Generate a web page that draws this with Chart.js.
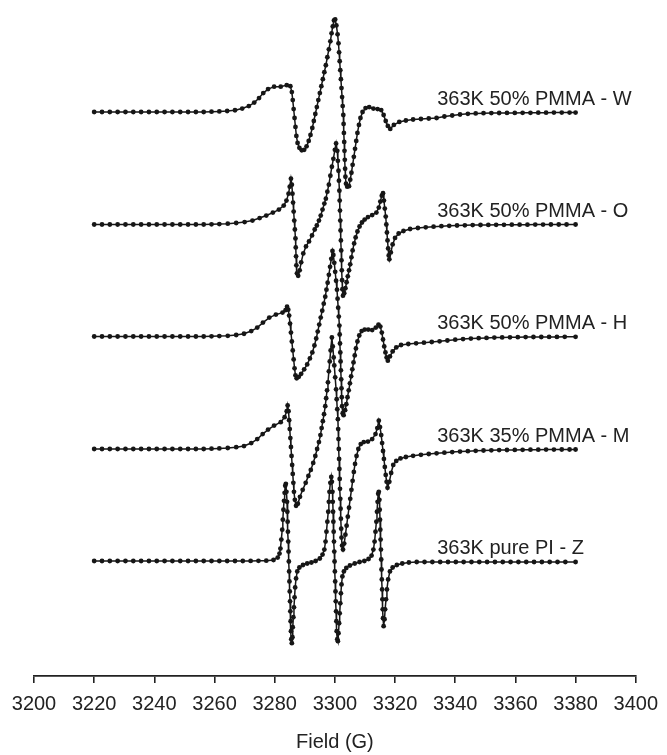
<!DOCTYPE html>
<html>
<head>
<meta charset="utf-8">
<script src="https://cdn.jsdelivr.net/npm/chart.js@4.4.1/dist/chart.umd.min.js"></script>
<style>
  html, body { margin: 0; padding: 0; background: #fff; }
  canvas { display: block; }
</style>
</head>
<body>
<canvas id="grafico" width="667" height="755"></canvas>
<script>
// EPR spectra, field in G, signal in arbitrary units (stacked with offsets)
const traceNames = ['363K 50% PMMA - W', '363K 50% PMMA - O', '363K 50% PMMA - H', '363K 35% PMMA - M', '363K pure PI - Z'];
const traceOffsets = [566.5, 453.5, 341, 228, 115];
const fieldTicks = [3200, 3220, 3240, 3260, 3280, 3300, 3320, 3340, 3360, 3380, 3400];

const leftFlat = [3220, 3222.6, 3225.2, 3227.8, 3230.4, 3233, 3235.6, 3238.2, 3240.8, 3243.4, 3246, 3248.6, 3251.2, 3253.8, 3256.4, 3259, 3261.6];

const fieldW = leftFlat.concat([
  3264.2, 3266.8, 3269.2, 3271.4, 3273.2, 3274.8, 3276.2, 3277.8, 3279.8, 3282, 3284, 3285.2, 3285.7, 3286, 3286.3, 3286.6, 3286.9, 3287.2, 3287.6, 3288.2,
  3289, 3289.8, 3290.6, 3291.3, 3291.9, 3292.5, 3293, 3293.5, 3294, 3294.5, 3295, 3295.5, 3296, 3296.5, 3297, 3297.5, 3298, 3298.5, 3298.9, 3299.3, 3299.7,
  3300.1, 3300.5, 3300.9, 3301.2, 3301.4, 3301.6, 3301.8, 3302, 3302.2, 3302.4, 3302.6, 3302.8, 3302.9, 3303, 3303.1, 3303.2, 3303.3, 3303.4, 3303.5, 3303.7,
  3304.1, 3304.7, 3305.1, 3305.5, 3305.9, 3306.3, 3306.7, 3307.1, 3307.5, 3308, 3308.5, 3309.2, 3310.2, 3311.4, 3312.8, 3314.2, 3315.4, 3316.2, 3316.9, 3317.6, 3318.4, 3319.6, 3321.4, 3323.6, 3326,
  3328.6, 3331.2, 3333.8, 3336.4, 3339, 3341.6, 3344.2, 3346.8, 3349.4, 3352, 3354.6, 3357.2, 3359.8, 3362.4, 3365, 3367.6, 3370.2, 3372.8, 3375.4, 3378, 3380]);
const ampW = [0, 0, 0, 0, 0, 0, 0, 0, 0, 0, 0, 0, 0, 0, 0, 0.3, 0.6,
  1, 1.8, 3.5, 6, 9.5, 14, 19, 23, 25.5, 25.5, 27, 26, 20, 12, 3, -6, -15, -24, -31, -36,
  -38.5, -38, -34.5, -29, -23, -16, -9, -2, 5, 12, 19, 26, 33, 40, 47, 55, 63, 71, 79, 86, 92,
  93, 87, 78, 69, 60, 51, 42, 33, 24, 15, 6, -3, -12, -21, -30, -39, -48, -57, -65, -72,
  -75, -74.5, -68, -61, -53, -45, -37, -29, -21, -13, -6, 0, 4, 5, 3.5, 3, 2, -3, -9, -14, -17, -13, -10, -8.5, -7.5,
  -7, -6.5, -6, -4.5, -3.5, -2.5, -1.8, -1.4, -1.2, -1.1, -1, -0.9, -0.9, -0.8, -0.8, -0.7, -0.7, -0.6, -0.6, -0.6, -0.6];

const fieldO = leftFlat.concat([
  3264.4, 3267.2, 3270, 3272.6, 3275, 3277.2, 3279.4, 3281.4, 3283, 3283.9, 3284.6, 3285, 3285.4, 3285.7, 3285.9, 3286.1, 3286.3, 3286.5, 3286.7, 3286.9,
  3287, 3287.1, 3287.2, 3287.4, 3287.8, 3288.3, 3288.8, 3289.5, 3290.4, 3291.4, 3292.4, 3293.3, 3294, 3294.7, 3295.3, 3295.9, 3296.5, 3297, 3297.5, 3298,
  3298.5, 3299, 3299.5, 3300, 3300.4, 3300.8, 3301, 3301.2, 3301.35, 3301.5, 3301.6, 3301.7, 3301.8, 3301.9, 3302, 3302.1, 3302.2, 3302.3, 3302.4, 3302.5,
  3302.7, 3303.1, 3303.5, 3303.9, 3304.3, 3304.7, 3305.1, 3305.5, 3305.9, 3306.4, 3306.9, 3307.5, 3308.2, 3309, 3309.9, 3311, 3312.4, 3313.8, 3314.6, 3315.1, 3315.6,
  3316, 3316.3, 3316.6, 3316.9, 3317.1, 3317.3, 3317.5, 3317.7, 3317.9, 3318.1, 3318.6, 3319.2, 3320, 3321.2, 3322.8, 3325, 3327.6,
  3330.2, 3332.8, 3335.4, 3338, 3340.6, 3343.2, 3345.8, 3348.4, 3351, 3353.6, 3356.2, 3358.8, 3361.4, 3364, 3366.6, 3369.2, 3371.8, 3374.4, 3377, 3380]);
const ampO = [0, 0, 0, 0, 0, 0, 0, 0, 0, 0, 0, 0, 0, 0, 0, 0.2, 0.4,
  0.8, 1.5, 2.5, 4, 6.5, 9, 12, 15, 19, 24, 31, 38, 46, 40, 31, 22, 13, 4, -5, -14,
  -23, -32, -41, -49, -51.5, -46, -38, -29, -22, -17, -11, -5, -1, 4, 9, 15, 21, 26, 33, 40,
  49, 58, 66, 75, 81.5, 74, 64, 54, 44, 34, 24, 14, 4, -6, -16, -26, -36, -46, -56, -65,
  -71.5, -69, -64, -58, -52, -46, -40, -33, -26, -19, -13, -7, -2, 2, 5, 7.5, 9.5, 12, 17, 23, 29,
  31.5, 24, 16, 8, 0, -8, -16, -24, -31, -35, -28, -20, -13.5, -9, -6.5, -4.5, -3.5,
  -2.8, -2.2, -1.7, -1.3, -1, -0.8, -0.6, -0.5, -0.4, -0.3, -0.3, -0.2, -0.2, -0.2, -0.1, -0.1, 0, 0, 0, 0];

const fieldH = leftFlat.concat([
  3264.4, 3267.2, 3269.8, 3272.2, 3274.2, 3276.1, 3278.2, 3280.4, 3282.6, 3283.6, 3284.1, 3284.5, 3284.8, 3285.1, 3285.4, 3285.7, 3286, 3286.3, 3286.6, 3286.9,
  3287.3, 3288, 3288.8, 3289.8, 3290.8, 3291.7, 3292.5, 3293.2, 3293.8, 3294.3, 3294.8, 3295.3, 3295.8, 3296.3, 3296.8, 3297.2, 3297.6, 3298, 3298.4, 3298.8,
  3299.2, 3299.5, 3299.8, 3300.1, 3300.4, 3300.7, 3300.9, 3301.1, 3301.3, 3301.5, 3301.6, 3301.7, 3301.8, 3301.9, 3302, 3302.1, 3302.2, 3302.3, 3302.4, 3302.6,
  3302.9, 3303.4, 3303.8, 3304.2, 3304.6, 3305, 3305.4, 3305.8, 3306.2, 3306.6, 3307, 3307.5, 3308.1, 3308.9, 3309.9, 3311.1, 3312.4, 3313.6, 3314.5,
  3315.1, 3315.6, 3316, 3316.4, 3316.8, 3317.2, 3317.6, 3318.3, 3319.2, 3320.4, 3322, 3324.4, 3327,
  3329.6, 3332.2, 3334.8, 3337.4, 3340, 3342.6, 3345.2, 3347.8, 3350.4, 3353, 3355.6, 3358.2, 3360.8, 3363.4, 3366, 3368.6, 3371.2, 3373.8, 3376.4, 3380]);
const ampH = [0, 0, 0, 0, 0, 0, 0, 0, 0, 0, 0, 0, 0, 0, 0, 0.2, 0.4,
  0.7, 1.5, 2.8, 5.5, 9, 14, 19, 22, 24, 26.5, 30, 27, 21, 13, 4, -5, -14, -23, -32, -39,
  -42, -40.5, -37.5, -33, -28, -22, -16, -9, -2, 5, 12, 19, 26, 33, 40, 47, 54, 62, 70, 78,
  86, 82, 74, 65, 56, 47, 38, 29, 20, 11, 2, -7, -16, -25, -34, -43, -52, -61, -70, -77,
  -79, -74, -68, -61, -54, -47, -40, -33, -26, -19, -12, -5, 1, 5.5, 7, 7, 6.5, 9, 12,
  10, 4, -3, -10, -16, -21, -24.3, -20, -15, -11, -8.5, -7.5, -6.8,
  -6.2, -5.5, -4.8, -4, -3.2, -2.6, -2.1, -1.7, -1.4, -1.1, -0.9, -0.8, -0.7, -0.6, -0.5, -0.5, -0.4, -0.4, -0.3, -0.3];

const fieldM = leftFlat.concat([
  3264.4, 3267.2, 3269.8, 3272.2, 3274.2, 3276, 3277.8, 3279.8, 3282, 3283.3, 3284, 3284.3, 3284.6, 3284.8, 3285, 3285.2, 3285.4, 3285.6, 3285.8, 3286, 3286.2, 3286.4, 3286.7,
  3287.1, 3287.7, 3288.4, 3289.3, 3290.3, 3291.2, 3292, 3292.8, 3293.5, 3294.1, 3294.7, 3295.2, 3295.6, 3296, 3296.4, 3296.8, 3297.1, 3297.4, 3297.7, 3298, 3298.3, 3298.6,
  3299, 3299.3, 3299.6, 3299.8, 3300.1, 3300.4, 3300.6, 3300.8, 3301, 3301.1, 3301.2, 3301.3, 3301.4, 3301.5, 3301.6, 3301.7, 3301.8, 3301.9, 3302, 3302.1, 3302.2, 3302.4,
  3302.7, 3303.1, 3303.5, 3303.9, 3304.3, 3304.7, 3305.1, 3305.5, 3305.9, 3306.3, 3306.7, 3307.2, 3307.8, 3308.6, 3309.6, 3311, 3312.4, 3313.5, 3314.1, 3314.6,
  3315, 3315.4, 3315.7, 3316, 3316.3, 3316.6, 3316.9, 3317.2, 3317.5, 3318.1, 3318.7, 3319.4, 3320.4, 3321.8, 3323.6, 3326, 3328.6,
  3331.2, 3333.8, 3336.4, 3339, 3341.6, 3344.2, 3346.8, 3349.4, 3352, 3354.6, 3357.2, 3359.8, 3362.4, 3365, 3367.6, 3370.2, 3372.8, 3375.4, 3378, 3380]);
const ampM = [0, 0, 0, 0, 0, 0, 0, 0, 0, 0, 0, 0, 0, 0, 0, 0.3, 0.6,
  1, 1.8, 3, 6, 10, 15, 19.5, 23.5, 27, 32, 38, 43.7, 38, 29, 20, 11, 2, -7, -16, -25, -34, -43, -51,
  -57, -55, -48, -41, -34, -27, -21, -14, -7, 0, 7, 14, 21, 28, 35, 43, 51, 59, 67, 78, 88, 99,
  112, 103, 92, 84, 72, 60, 50, 40, 30, 20, 10, 0, -10, -20, -30, -40, -50, -60, -70, -80, -89, -97,
  -101, -95, -86, -77, -68, -59, -50, -41, -32, -23, -15, -7, 0, 5, 7, 7.5, 10, 15, 21, 28.5,
  22, 14, 6, -2, -10, -18, -26, -33, -39, -33, -24, -16, -12, -9.5, -8, -6.8, -5.8,
  -5, -4.3, -3.7, -3.1, -2.6, -2.2, -1.8, -1.5, -1.3, -1.1, -1, -0.9, -0.8, -0.7, -0.7, -0.6, -0.6, -0.5, -0.5, -0.5];

const fieldZ = leftFlat.concat([
  3264.2, 3266.8, 3269.4, 3272, 3274.6, 3277.2, 3279.6, 3281, 3281.6, 3281.9, 3282.2, 3282.5, 3282.7, 3282.9, 3283.1, 3283.3, 3283.5, 3283.7,
  3283.9, 3284.1, 3284.2, 3284.3, 3284.4, 3284.5, 3284.6, 3284.7, 3284.8, 3284.9, 3285, 3285.1, 3285.2, 3285.3, 3285.4, 3285.5, 3285.7,
  3285.9, 3286, 3286.2, 3286.4, 3286.6, 3286.8, 3287.1, 3287.5, 3288.2, 3289.4, 3290.8, 3292.2, 3293.6, 3295, 3295.9, 3296.5, 3296.9,
  3297.2, 3297.5, 3297.8, 3298, 3298.2, 3298.5, 3298.8, 3299, 3299.2, 3299.3, 3299.4, 3299.5, 3299.6, 3299.7, 3299.8, 3299.9, 3300,
  3300.1, 3300.2, 3300.3, 3300.4, 3300.5, 3300.6, 3300.8, 3301, 3301.2, 3301.4, 3301.6, 3301.8, 3302, 3302.2, 3302.5, 3303, 3303.8,
  3305, 3306.6, 3308.2, 3309.8, 3311.2, 3312.2, 3312.8, 3313.2, 3313.5, 3313.8, 3314, 3314.2, 3314.4, 3314.6, 3314.8, 3314.9, 3315,
  3315.1, 3315.2, 3315.3, 3315.4, 3315.5, 3315.6, 3315.7, 3315.8, 3315.9, 3316, 3316.2, 3316.5, 3316.7, 3317, 3317.3, 3317.7, 3318.3,
  3319.2, 3320.6, 3322.4, 3324.6, 3327.2, 3329.8, 3332.4, 3335, 3337.6, 3340.2, 3342.8, 3345.4, 3348, 3350.6, 3353.2, 3355.8, 3358.4,
  3361, 3363.6, 3366.2, 3368.8, 3371.4, 3374, 3376.6, 3380]);
const ampZ = [0.5, 0.5, 0.5, 0.5, 0.5, 0.5, 0.5, 0.5, 0.5, 0.5, 0.5, 0.5, 0.5, 0.5, 0.5, 0.5, 0.5,
  0.5, 0.5, 0.5, 0.6, 0.7, 0.8, 1.5, 4, 8, 13, 22, 32, 42, 52, 61, 69, 76, 78,
  70, 60, 50, 40, 30, 20, 10, 0, -10, -20, -30, -40, -50, -60, -70, -78, -82,
  -76, -66, -56, -46, -36, -26, -17, -10, -6, -3.5, -2, -1, 0.5, 3, 7, 12, 20,
  30, 40, 50, 60, 70, 79, 85, 80, 70, 60, 50, 40, 30, 20, 10, 0, -10,
  -20, -30, -40, -50, -60, -70, -78, -80, -72, -62, -52, -42, -32, -23, -15, -10, -6.5,
  -4, -2, -0.5, 0.5, 2.5, 6, 12, 20, 30, 40, 50, 60, 68, 70, 62, 52, 42,
  32, 22, 12, 2, -8, -18, -28, -38, -48, -57, -65, -58, -48, -38, -28, -18, -10,
  -6, -3.5, -2, -1, -0.5, -0.5, -0.5, -0.5, -0.5, -0.5, -0.5, -0.5, -0.5, -0.5, -0.5, -0.5, -0.5,
  -0.5, -0.5, -0.5, -0.5, -0.5, -0.5, -0.5, -0.5];

const fieldSets = [fieldW, fieldO, fieldH, fieldM, fieldZ];
const ampSets = [ampW, ampO, ampH, ampM, ampZ];

const corTraco = '#161616';
const fonte = '"Liberation Sans", Arial, sans-serif';

const rotulos = {
  id: 'rotulos',
  afterDatasetsDraw(chart) {
    const ctx = chart.ctx;
    const x = chart.scales.x.getPixelForValue(3334);
    ctx.save();
    ctx.font = '20px ' + fonte;
    ctx.fillStyle = '#222';
    ctx.textAlign = 'left';
    ctx.textBaseline = 'middle';
    traceNames.forEach((nome, i) => {
      const y = chart.scales.y.getPixelForValue(traceOffsets[i] + 13);
      ctx.fillText(nome, x, y);
    });
    ctx.restore();
  }
};

const datasets = traceNames.map((nome, i) => ({
  label: nome,
  data: fieldSets[i].map((f, k) => ({ x: f, y: traceOffsets[i] + ampSets[i][k] })),
  showLine: true,
  borderColor: corTraco,
  backgroundColor: corTraco,
  borderWidth: 1.5,
  pointRadius: 2.4,
  pointBorderWidth: 0,
  tension: 0,
  clip: false
}));

new Chart(document.getElementById('grafico').getContext('2d'), {
  type: 'scatter',
  data: { datasets: datasets },
  options: {
    responsive: false,
    animation: false,
    layout: { padding: { left: 34, right: 26, top: 0, bottom: 1 } },
    plugins: { legend: { display: false }, tooltip: { enabled: false } },
    scales: {
      x: {
        type: 'linear',
        min: 3200,
        max: 3400,
        afterBuildTicks: (axis) => { axis.ticks = fieldTicks.map(v => ({ value: v })); },
        border: { display: true, color: '#222', width: 1.8 },
        grid: { display: true, drawOnChartArea: false, drawTicks: true, tickLength: 7, color: '#222', lineWidth: 1.6 },
        ticks: {
          color: '#222',
          font: { family: fonte, size: 20 },
          padding: 9,
          maxRotation: 0,
          autoSkip: false,
          callback: (v) => String(v)
        },
        title: { display: true, text: 'Field (G)', color: '#222', font: { family: fonte, size: 20 }, padding: { top: 5, bottom: 0 } }
      },
      y: { display: false, min: 0, max: 675 }
    }
  },
  plugins: [rotulos]
});
</script>
</body>
</html>
